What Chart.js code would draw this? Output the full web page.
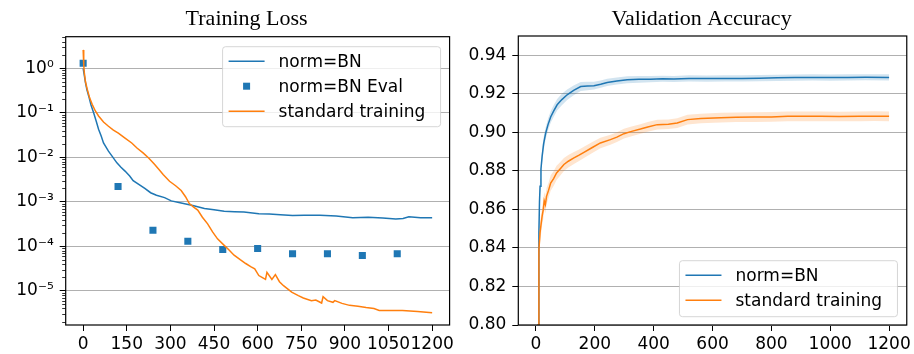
<!DOCTYPE html>
<html>
<head>
<meta charset="utf-8">
<script src="https://cdn.jsdelivr.net/npm/chart.js@4.4.0/dist/chart.umd.min.js"></script>
<style>
  body { margin: 0; background: #fff; }
  #wrap { position: relative; width: 914px; height: 354px; }
  canvas { position: absolute; top: 0; }
  #lossChart { left: 0; }
  #accChart { left: 457px; }
</style>
</head>
<body>
<div id="wrap">
  <canvas id="lossChart" width="457" height="354"></canvas>
  <canvas id="accChart" width="457" height="354"></canvas>
</div>
<script>
// ---- Training loss (left) ----
const lossXTicks = [0, 150, 300, 450, 600, 750, 900, 1050, 1200];
const lossXLabels = ["0", "150", "300", "450", "600", "750", "900", "1050", "1200"];
const lossYTicks = [1e-5, 1e-4, 1e-3, 1e-2, 1e-1, 1];
const lossYLabels = ["10\u207B\u2075", "10\u207B\u2074", "10\u207B\u00B3", "10\u207B\u00B2", "10\u207B\u00B9", "10\u2070"];

const bnLossX = [0, 4, 8, 13, 19, 27, 36, 45, 53, 62, 70, 87, 100, 116, 130, 144, 160, 172, 190, 212,
  232, 252, 280, 303, 337, 377, 417, 450, 485, 520, 553, 604, 640, 678, 720, 760, 814, 870, 927, 980,
  1030, 1075, 1100, 1120, 1160, 1200];
const bnLoss = [1.0, 0.7, 0.48, 0.33, 0.24, 0.15, 0.1, 0.065, 0.043, 0.03, 0.021, 0.0138, 0.0105, 0.0075, 0.006, 0.0049, 0.0038, 0.003, 0.0025, 0.002,
  0.0016, 0.0014, 0.00124, 0.00105, 0.00094, 0.00083, 0.00071, 0.00066, 0.00061, 0.0006, 0.00059, 0.00054, 0.00053, 0.00051, 0.00049, 0.0005, 0.0005, 0.00048, 0.00044, 0.00045,
  0.00043, 0.00041, 0.00042, 0.00046, 0.00044, 0.00044];

const evalX = [0, 120, 240, 360, 480, 600, 720, 840, 960, 1080];
const evalLoss = [1.3, 2.2e-3, 2.3e-4, 1.3e-4, 8.5e-5, 8.9e-5, 6.8e-5, 6.8e-5, 6.2e-5, 6.8e-5];

const stdLossX = [0, 2, 4, 8, 14, 22, 31, 42, 53, 70, 87, 104, 121, 144, 167, 186, 206, 226, 246, 260,
  275, 297, 318, 337, 352, 365, 380, 394, 410, 428, 445, 462, 485, 500, 519, 540, 559, 576, 590, 604,
  615, 627, 632, 649, 661, 675, 689, 717, 740, 757, 785, 800, 820, 825, 840, 859, 865, 890, 916, 945,
  973, 1000, 1018, 1050, 1098, 1150, 1200];
const stdLoss = [2.6, 1.2, 0.8, 0.5, 0.34, 0.22, 0.155, 0.11, 0.085, 0.062, 0.05, 0.041, 0.035, 0.027, 0.021, 0.016, 0.0126, 0.0095, 0.0069, 0.0054,
  0.0041, 0.0029, 0.0023, 0.0018, 0.0013, 0.00091, 0.00076, 0.00065, 0.00045, 0.00032, 0.00021, 0.000147, 0.000105, 0.000085, 0.000063, 0.00005, 0.000041, 0.000035, 0.000031, 0.000022,
  0.00002, 0.000018, 0.000026, 0.000018, 0.000023, 0.000016, 0.000013, 0.0000093, 0.0000078, 0.0000069, 0.000006, 0.0000062, 0.0000053, 0.0000074, 0.000006, 0.0000055, 0.000006, 0.0000052, 0.0000047, 0.0000045,
  0.0000042, 0.000004, 0.0000036, 0.0000036, 0.0000036, 0.0000034, 0.0000032];

// ---- Validation accuracy (right) ----
const accXTicks = [0, 200, 400, 600, 800, 1000, 1200];
const accXLabels = ["0", "200", "400", "600", "800", "1000", "1200"];
const accYTicks = [0.80, 0.82, 0.84, 0.86, 0.88, 0.90, 0.92, 0.94];
const accYLabels = ["0.80", "0.82", "0.84", "0.86", "0.88", "0.90", "0.92", "0.94"];

const bnAccX = [5, 8, 10, 12, 14, 17, 21, 26, 33, 41, 50, 60, 72, 88, 106, 128, 152, 175, 197, 220,
  242, 275, 310, 350, 389, 430, 469, 520, 580, 640, 700, 760, 820, 880, 940, 1000, 1060, 1120, 1200];
const bnAcc = [0.75, 0.80, 0.848, 0.864, 0.872, 0.881, 0.8876, 0.894, 0.8996, 0.904, 0.908, 0.911, 0.9143, 0.917, 0.9195, 0.9218, 0.9238, 0.924, 0.9242, 0.925,
  0.9259, 0.9266, 0.9273, 0.9275, 0.9276, 0.9278, 0.9277, 0.928, 0.9279, 0.928, 0.928, 0.9281, 0.9283, 0.9284, 0.9285, 0.9284, 0.9285, 0.9286, 0.9285];
const bnAccLo = [0.74, 0.79, 0.843, 0.860, 0.868, 0.877, 0.884, 0.8905, 0.8965, 0.901, 0.905, 0.908, 0.9113, 0.914, 0.9168, 0.9193, 0.9215, 0.9218, 0.9222, 0.9231,
  0.924, 0.9248, 0.9255, 0.9258, 0.926, 0.9262, 0.9261, 0.9264, 0.9263, 0.9264, 0.9264, 0.9265, 0.9267, 0.9268, 0.9269, 0.9268, 0.9269, 0.927, 0.9269];
const bnAccHi = [0.76, 0.81, 0.853, 0.868, 0.876, 0.885, 0.891, 0.8975, 0.9027, 0.907, 0.911, 0.914, 0.9173, 0.920, 0.9222, 0.9243, 0.9261, 0.9262, 0.9262, 0.9269,
  0.9278, 0.9284, 0.9291, 0.9292, 0.9292, 0.9294, 0.9293, 0.9296, 0.9295, 0.9296, 0.9296, 0.9297, 0.9299, 0.93, 0.9301, 0.93, 0.9301, 0.9302, 0.9301];

const stdAccX = [6, 8, 10, 14, 18, 21, 25, 28, 32, 36, 43, 50, 60, 70, 82, 95, 110, 129, 145, 163,
  190, 219, 253, 275, 299, 325, 355, 380, 412, 450, 480, 515, 560, 628, 680, 742, 800, 855, 910, 968,
  1030, 1100, 1150, 1200];
const stdAcc = [0.76, 0.80, 0.839, 0.848, 0.853, 0.8565, 0.860, 0.8645, 0.8625, 0.8668, 0.8700, 0.8737, 0.8760, 0.8789, 0.8810, 0.8833, 0.8850, 0.8867, 0.8880, 0.8896,
  0.8920, 0.8945, 0.8962, 0.8975, 0.8993, 0.9005, 0.9017, 0.9028, 0.9040, 0.9042, 0.9048, 0.9066, 0.9072, 0.9076, 0.9078, 0.9079, 0.9080, 0.9083, 0.9083, 0.9083,
  0.9082, 0.9083, 0.9084, 0.9083];
const stdAccLo = [0.75, 0.79, 0.834, 0.843, 0.848, 0.852, 0.855, 0.8600, 0.858, 0.8625, 0.866, 0.8697, 0.8722, 0.8752, 0.8775, 0.8799, 0.8817, 0.8836, 0.8850, 0.8867,
  0.8892, 0.8918, 0.8936, 0.895, 0.8968, 0.8980, 0.8992, 0.9003, 0.9015, 0.9017, 0.9023, 0.9041, 0.9047, 0.9051, 0.9053, 0.9054, 0.9055, 0.9058, 0.9058, 0.9058,
  0.9057, 0.9058, 0.9059, 0.9058];
const stdAccHi = [0.77, 0.81, 0.844, 0.853, 0.858, 0.861, 0.865, 0.869, 0.867, 0.8711, 0.874, 0.8777, 0.8798, 0.8826, 0.8845, 0.8867, 0.8883, 0.8898, 0.8910, 0.8925,
  0.8948, 0.8972, 0.8988, 0.900, 0.9018, 0.9030, 0.9042, 0.9053, 0.9065, 0.9067, 0.9073, 0.9091, 0.9097, 0.9101, 0.9103, 0.9104, 0.9105, 0.9108, 0.9108, 0.9108,
  0.9107, 0.9108, 0.9109, 0.9108];

const BLUE = "#1f77b4";
const ORANGE = "#ff7f0e";
const TICK_FONT = { family: "'DejaVu Sans'", size: 17 };

const pts = (xs, ys) => xs.map((x, i) => ({ x: x, y: ys[i] }));

// title, spines, minor log ticks and legend box drawn matplotlib-style
const decor = {
  id: "decor",
  afterDraw(chart, args, opts) {
    const ctx = chart.ctx;
    const a = chart.chartArea;
    ctx.save();

    if (opts.minorTicks) {
      const ys = chart.scales.y;
      ctx.strokeStyle = "#000";
      ctx.lineWidth = 0.8;
      for (let e = -7; e <= 1; e++) {
        for (let k = 2; k <= 9; k++) {
          const v = k * Math.pow(10, e);
          if (v < ys.min || v > ys.max) continue;
          const py = Math.round(ys.getPixelForValue(v)) + 0.5;
          ctx.beginPath();
          ctx.moveTo(a.left - 3.5, py);
          ctx.lineTo(a.left, py);
          ctx.stroke();
        }
      }
    }

    ctx.strokeStyle = "#000";
    ctx.lineWidth = 1.2;
    ctx.strokeRect(a.left, a.top, a.right - a.left, a.bottom - a.top);

    ctx.fillStyle = "#000";
    ctx.font = "22px 'Liberation Serif'";
    ctx.textAlign = "center";
    ctx.textBaseline = "alphabetic";
    ctx.fillText(opts.title, (a.left + a.right) / 2 - 11, 25);

    const lg = opts.legend;
    const bx = a.right - lg.right - lg.w;
    const by = lg.top != null ? a.top + lg.top : a.bottom - lg.bottom - lg.h;
    ctx.beginPath();
    ctx.roundRect(bx, by, lg.w, lg.h, 3);
    ctx.fillStyle = "rgba(255,255,255,0.8)";
    ctx.fill();
    ctx.strokeStyle = "rgba(204,204,204,0.8)";
    ctx.lineWidth = 1;
    ctx.stroke();

    ctx.font = "17px 'DejaVu Sans'";
    ctx.textAlign = "left";
    ctx.textBaseline = "middle";
    lg.items.forEach((it, i) => {
      const cy = by + 14.5 + i * 25;
      if (it.kind === "rect") {
        ctx.fillStyle = it.color;
        ctx.fillRect(bx + 20.5, cy - 3.5, 7, 7);
      } else {
        ctx.strokeStyle = it.color;
        ctx.lineWidth = 1.5;
        ctx.beginPath();
        ctx.moveTo(bx + 6, cy);
        ctx.lineTo(bx + 42, cy);
        ctx.stroke();
      }
      ctx.fillStyle = "#000";
      ctx.fillText(it.label, bx + 56, cy + 1);
    });

    ctx.restore();
  }
};

function xAxis(ticks, labels) {
  return {
    type: "linear", min: -60, max: 1260,
    afterBuildTicks: (s) => { s.ticks = ticks.map((v) => ({ value: v })); },
    afterFit: (s) => { s.height = 29; },
    grid: { drawOnChartArea: false, tickLength: 6, tickColor: "#000", tickWidth: 1 },
    border: { display: false },
    ticks: { font: TICK_FONT, color: "#000", padding: 3, autoSkip: false, maxRotation: 0,
      callback: (v, i) => labels[i] }
  };
}

function yAxis(type, min, max, ticks, labels, width) {
  return {
    type: type, min: min, max: max,
    afterBuildTicks: (s) => { s.ticks = ticks.map((v) => ({ value: v })); },
    afterFit: (s) => { s.width = width; },
    grid: { color: "#b0b0b0", lineWidth: 1, tickLength: 6, tickColor: "#000" },
    border: { display: false },
    ticks: { font: TICK_FONT, color: "#000", padding: 6, autoSkip: false,
      callback: (v, i) => labels[i] }
  };
}

const common = {
  responsive: false,
  animation: false,
  events: [],
  plugins: { legend: { display: false }, tooltip: { enabled: false } }
};

new Chart(document.getElementById("lossChart"), {
  type: "line",
  data: {
    datasets: [
      { label: "norm=BN", data: pts(bnLossX, bnLoss), borderColor: BLUE, borderWidth: 1.5,
        pointRadius: 0, tension: 0, order: 2 },
      { label: "norm=BN Eval", data: pts(evalX, evalLoss), showLine: false, pointStyle: "rect",
        pointRadius: 5, backgroundColor: BLUE, borderColor: BLUE, borderWidth: 0, order: 1 },
      { label: "standard training", data: pts(stdLossX, stdLoss), borderColor: ORANGE, borderWidth: 1.5,
        pointRadius: 0, tension: 0, order: 0 }
    ]
  },
  options: {
    ...common,
    layout: { padding: { top: 36.7, right: 4, left: 0, bottom: 0 } },
    scales: {
      x: xAxis(lossXTicks, lossXLabels),
      y: yAxis("logarithmic", 1.7e-6, 5.15, lossYTicks, lossYLabels, 65.7)
    },
    plugins: {
      ...common.plugins,
      decor: {
        title: "Training Loss",
        minorTicks: true,
        legend: { right: 9, top: 10, w: 218, h: 80, items: [
          { label: "norm=BN", color: BLUE, kind: "line" },
          { label: "norm=BN Eval", color: BLUE, kind: "rect" },
          { label: "standard training", color: ORANGE, kind: "line" }
        ] }
      }
    }
  },
  plugins: [decor]
});

new Chart(document.getElementById("accChart"), {
  type: "line",
  data: {
    datasets: [
      { data: pts(bnAccX, bnAccHi), fill: "+1", backgroundColor: "rgba(31,119,180,0.2)",
        borderWidth: 0, pointRadius: 0, order: 5 },
      { data: pts(bnAccX, bnAccLo), fill: false, borderWidth: 0, pointRadius: 0, order: 5 },
      { data: pts(stdAccX, stdAccHi), fill: "+1", backgroundColor: "rgba(255,127,14,0.2)",
        borderWidth: 0, pointRadius: 0, order: 4 },
      { data: pts(stdAccX, stdAccLo), fill: false, borderWidth: 0, pointRadius: 0, order: 4 },
      { label: "norm=BN", data: pts(bnAccX, bnAcc), borderColor: BLUE, borderWidth: 1.5,
        pointRadius: 0, tension: 0, order: 1 },
      { label: "standard training", data: pts(stdAccX, stdAcc), borderColor: ORANGE, borderWidth: 1.5,
        pointRadius: 0, tension: 0, order: 0 }
    ]
  },
  options: {
    ...common,
    layout: { padding: { top: 36, right: 5.7, left: 0, bottom: 0 } },
    scales: {
      x: xAxis(accXTicks, accXLabels),
      y: yAxis("linear", 0.80, 0.95, accYTicks, accYLabels, 61.3)
    },
    plugins: {
      ...common.plugins,
      decor: {
        title: "Validation Accuracy",
        minorTicks: false,
        legend: { right: 9.3, bottom: 8.3, w: 218, h: 56, items: [
          { label: "norm=BN", color: BLUE, kind: "line" },
          { label: "standard training", color: ORANGE, kind: "line" }
        ] }
      }
    }
  },
  plugins: [decor]
});
</script>
</body>
</html>
